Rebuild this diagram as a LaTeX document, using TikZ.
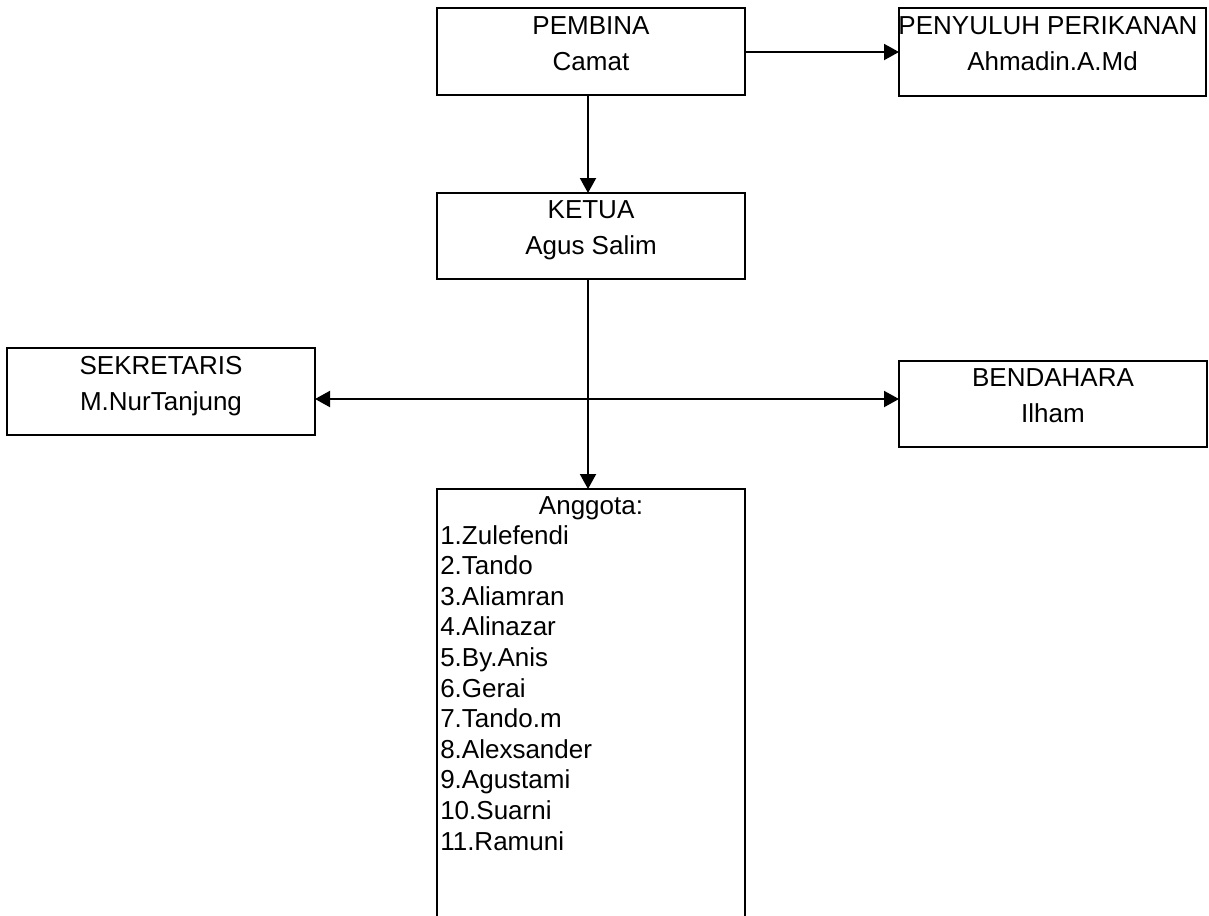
\documentclass[tikz,border=0pt]{standalone}
\usepackage{fontspec}
\setmainfont{Liberation Sans}
\usetikzlibrary{arrows.meta}
\begin{document}
\begin{tikzpicture}[x=0.75pt,y=-0.75pt,
  box/.style={draw=black,line width=1.5pt,inner sep=0pt,outer sep=0pt,minimum width=231pt,minimum height=65pt},
  txt/.style={anchor=base,inner sep=0pt,font=\fontsize{19.5}{23}\selectfont},
  item/.style={anchor=base west,inner sep=0pt,font=\fontsize{19.5}{23}\selectfont},
  conn/.style={line width=1.5pt,-{Triangle[length=11.25pt,width=12pt]}}]
\useasboundingbox (0,0) rectangle (1209,915);
% boxes
\node[box] (pem) at (591,51.5) {};
\node[box,minimum width=230.25pt,minimum height=66pt] (pen) at (1052.5,52) {};
\node[box,minimum height=64.5pt] (ket) at (591,236) {};
\node[box] (sek) at (161,391.5) {};
\node[box,minimum height=64.5pt] (ben) at (1053,404) {};
\node[box,minimum height=330pt] (ang) at (591,709) {};
% texts
\node[txt] (t1) at (591,34) {PEMBINA};
\node[txt] (t2) at (591,70) {Camat};
\node[txt] (t3) at (1048,34) {PENYULUH PERIKANAN};
\node[txt] (t4) at (1052.5,70) {Ahmadin.A.Md};
\node[txt] (t5) at (591,218) {KETUA};
\node[txt] (t6) at (591,254) {Agus Salim};
\node[txt] (t7) at (161,374) {SEKRETARIS};
\node[txt] (t8) at (161,410) {M.NurTanjung};
\node[txt] (t9) at (1053,386) {BENDAHARA};
\node[txt] (t10) at (1053,422) {Ilham};
\node[txt] (t11) at (591,514) {Anggota:};
\node[item] (a1) at (440,544) {1.Zulefendi};
\node[item] (a2) at (440,574.6) {2.Tando};
\node[item] (a3) at (440,605.2) {3.Aliamran};
\node[item] (a4) at (440,635.8) {4.Alinazar};
\node[item] (a5) at (440,666.4) {5.By.Anis};
\node[item] (a6) at (440,697) {6.Gerai};
\node[item] (a7) at (440,727.6) {7.Tando.m};
\node[item] (a8) at (440,758.2) {8.Alexsander};
\node[item] (a9) at (440,788.8) {9.Agustami};
\node[item] (a10) at (440,819.4) {10.Suarni};
\node[item] (a11) at (440,850) {11.Ramuni};
% connectors
\coordinate (vx) at (588,0);
\coordinate (hy) at (0,52);
\coordinate (j) at (588,399);
\draw[conn] (pem.east |- hy) -- (pen.west |- hy);
\draw[conn] (pem.south -| vx) -- (ket.north -| vx);
\draw[conn] (ket.south -| vx) -- (ang.north -| vx);
\draw[conn] (j) -- (sek.east |- j);
\draw[conn] (j) -- (ben.west |- j);
\end{tikzpicture}
\end{document}
